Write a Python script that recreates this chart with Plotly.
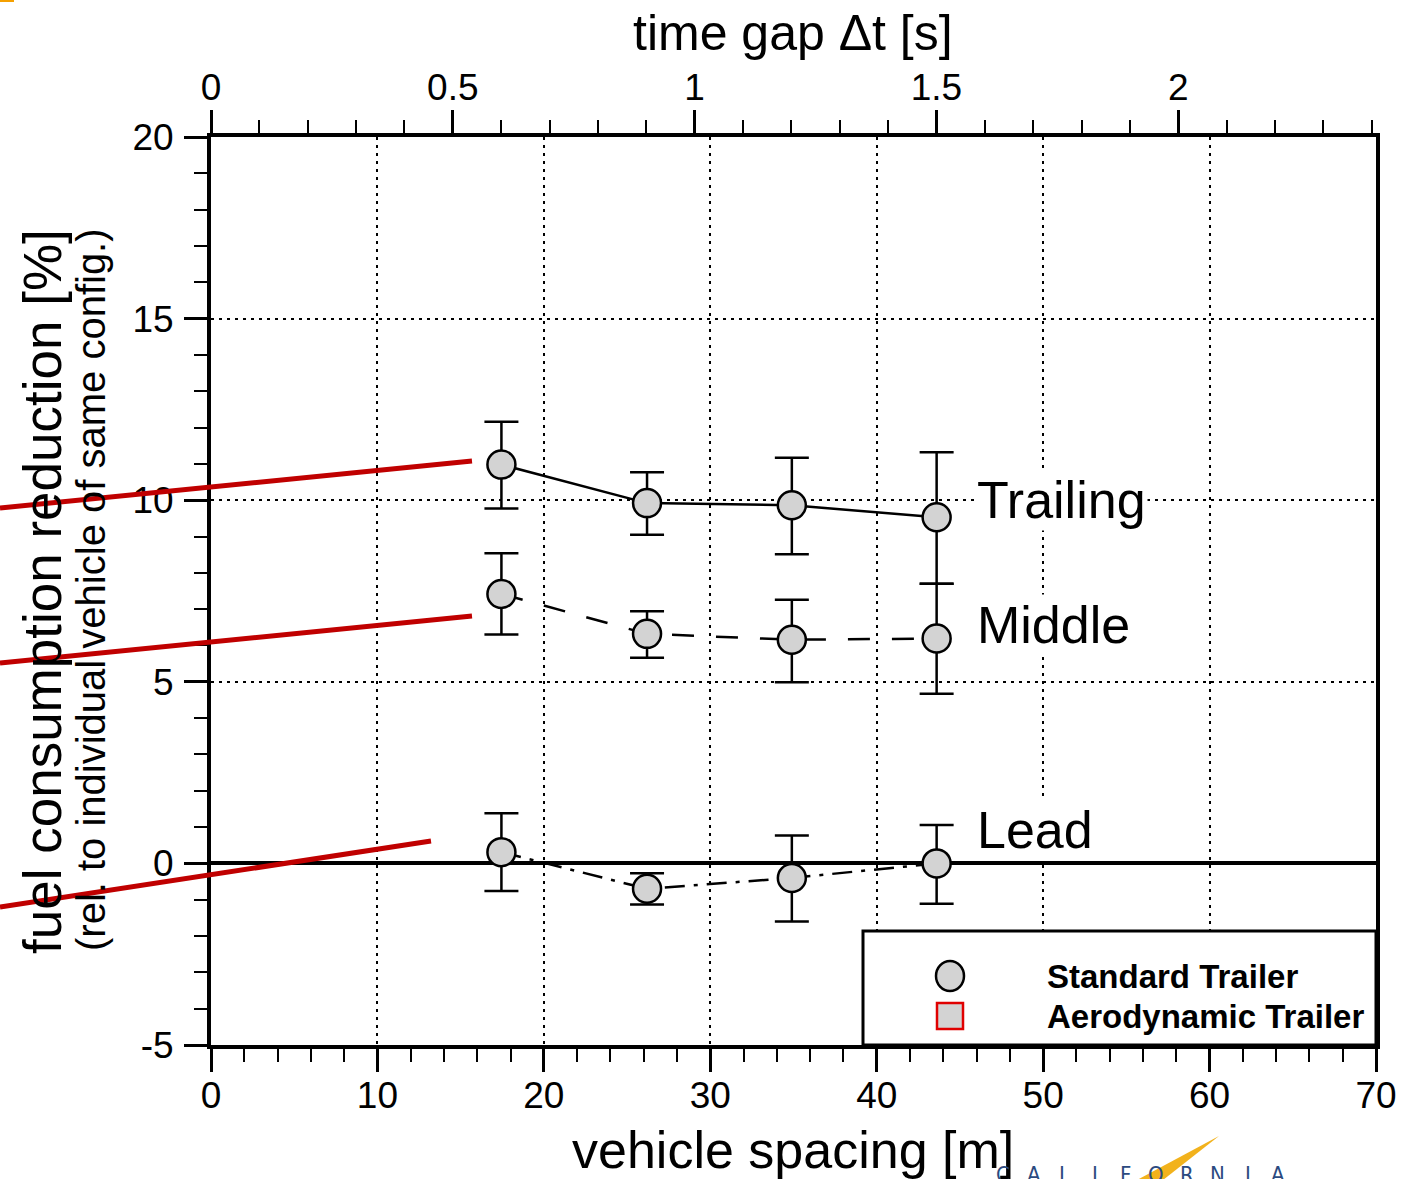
import plotly.graph_objects as go

# ---------------- data ----------------
spacing_m = [17.45, 26.2, 34.9, 43.6]          # vehicle spacing [m]
speed_ms = 29.06                                # 65 mph -> relation between spacing and time gap

trailing = [10.98, 9.92, 9.86, 9.53]
trailing_hi = [12.16, 10.77, 11.17, 11.32]
trailing_lo = [9.77, 9.05, 8.51, 7.70]

middle = [7.42, 6.32, 6.16, 6.19]
middle_hi = [8.54, 6.94, 7.26, 7.70]
middle_lo = [6.30, 5.66, 4.99, 4.67]

lead = [0.31, -0.70, -0.40, 0.00]
lead_hi = [1.38, -0.27, 0.77, 1.06]
lead_lo = [-0.76, -1.13, -1.60, -1.11]

series_names = ["Trailing", "Middle", "Lead"]
series_label_y = [10.0, 6.57, 0.91]
legend_names = ["Standard Trailer", "Aerodynamic Trailer"]

x_ticks = [0, 10, 20, 30, 40, 50, 60, 70]
y_ticks = [-5, 0, 5, 10, 15, 20]
y_ticktext = ["-5", "0", "5", "10", "15", "20"]
t_ticks = [0, 0.5, 1, 1.5, 2]

# ---------------- layout geometry helpers ----------------
W, H = 1401, 1179
L, R, T, B = 211, 1376, 137, 1045


def px(xp):
    return (xp - L) / (R - L)


def py(yp):
    return (B - yp) / (B - T)


FONT = "Liberation Sans, Arial, sans-serif"
GRAY = "#d3d3d3"

fig = go.Figure()

dashes = ["solid", "22px,22px", "20px,9px,4px,9px"]
vals = [(trailing, trailing_hi, trailing_lo),
        (middle, middle_hi, middle_lo),
        (lead, lead_hi, lead_lo)]
for name, (v, hi, lo), dash in zip(series_names, vals, dashes):
    fig.add_trace(go.Scatter(
        x=spacing_m, y=v, mode="lines+markers", name=name, showlegend=False,
        line=dict(color="black", width=2.5, dash=dash),
        marker=dict(symbol="circle", size=28, color=GRAY,
                    line=dict(color="black", width=2.5)),
        error_y=dict(type="data", symmetric=False,
                     array=[h - c for h, c in zip(hi, v)],
                     arrayminus=[c - l for c, l in zip(v, lo)],
                     color="black", thickness=2.5, width=17),
        cliponaxis=False,
    ))

# dummy trace to anchor the top time-gap axis
fig.add_trace(go.Scatter(x=[None], y=[None], xaxis="x2", yaxis="y",
                         showlegend=False, hoverinfo="skip"))

grid = dict(showgrid=True, gridcolor="black", gridwidth=2, griddash="3px,5px")

fig.update_layout(
    width=W, height=H,
    margin=dict(l=L, r=W - R, t=T, b=H - B, autoexpand=False),
    paper_bgcolor="white", plot_bgcolor="white",
    font=dict(family=FONT, color="black", size=37),
    xaxis=dict(range=[0, 70], tickvals=x_ticks, ticks="outside", ticklen=23,
               tickwidth=3, tickcolor="black", showline=True, linewidth=4,
               linecolor="black", mirror=False, zeroline=False, automargin=False,
               tickfont=dict(size=37, family=FONT), ticklabelstandoff=-8,
               minor=dict(dtick=2, ticklen=13, tickwidth=2, tickcolor="black",
                          ticks="outside", showgrid=False),
               **grid),
    xaxis2=dict(overlaying="x", side="top", anchor="y",
                range=[0, 70 / speed_ms], tickvals=t_ticks,
                ticktext=[f"{t:g}" for t in t_ticks],
                ticks="outside", ticklen=23, tickwidth=3, tickcolor="black",
                showline=True, linewidth=4, linecolor="black", automargin=False,
                showgrid=False, zeroline=False,
                tickfont=dict(size=37, family=FONT), ticklabelstandoff=-5,
                minor=dict(dtick=0.1, ticklen=13, tickwidth=2, tickcolor="black",
                           ticks="outside", showgrid=False)),
    yaxis=dict(range=[-5, 20], tickvals=y_ticks, ticktext=y_ticktext,
               ticks="outside", ticklen=23, automargin=False,
               tickwidth=3, tickcolor="black", showline=True, linewidth=4,
               linecolor="black", mirror=True,
               zeroline=True, zerolinecolor="black", zerolinewidth=4,
               tickfont=dict(size=37, family=FONT), ticklabelstandoff=3,
               minor=dict(dtick=1, ticklen=13, tickwidth=2, tickcolor="black",
                          ticks="outside", showgrid=False),
               **grid),
    showlegend=False,
)

annotations = []
# axis titles
annotations.append(dict(text="vehicle spacing [m]", xref="paper", yref="paper",
                        x=px(793), y=py(1150), xanchor="center", yanchor="middle",
                        showarrow=False, font=dict(size=52, family=FONT)))
annotations.append(dict(text="time gap \u0394t [s]", xref="paper", yref="paper",
                        x=px(793), y=py(33), xanchor="center", yanchor="middle",
                        showarrow=False, font=dict(size=50, family=FONT)))
annotations.append(dict(text="fuel consumption reduction [%]", xref="paper", yref="paper",
                        x=px(42), y=py(592), xanchor="center", yanchor="middle",
                        textangle=-90, showarrow=False, font=dict(size=53, family=FONT)))
annotations.append(dict(text="(rel. to individual vehicle of same config.)", xref="paper",
                        yref="paper", x=px(91), y=py(590), xanchor="center",
                        yanchor="middle", textangle=-90, showarrow=False,
                        font=dict(size=40, family=FONT)))
# series labels
for name, ly in zip(series_names, series_label_y):
    annotations.append(dict(text=name, xref="x", yref="y", x=45.9, y=ly,
                            xanchor="left", yanchor="middle", showarrow=False,
                            bgcolor="white", borderpad=1,
                            font=dict(size=52, family=FONT)))
# legend texts
for name, yp in zip(legend_names, [976, 1016]):
    annotations.append(dict(text=f"<b>{name}</b>", xref="paper", yref="paper",
                            x=px(1045), y=py(yp), xanchor="left", yanchor="middle",
                            showarrow=False, font=dict(size=33, family=FONT)))
# CALIFORNIA logo letters
for i, ch in enumerate("CALIFORNIA"):
    annotations.append(dict(text=ch, xref="paper", yref="paper",
                            x=px(1003 + i * 30.6), y=py(1160), xanchor="center",
                            yanchor="top", showarrow=False,
                            font=dict(size=22, family="DejaVu Sans Condensed, sans-serif",
                                      color="#2b4a80")))
fig.update_layout(annotations=annotations)

shapes = []
# legend box
shapes.append(dict(type="rect", xref="paper", yref="paper", x0=px(863), x1=1.0,
                   y0=0.0, y1=py(931), line=dict(color="black", width=3),
                   fillcolor="white", layer="above"))
shapes.append(dict(type="circle", xref="paper", yref="paper", xsizemode="pixel",
                   ysizemode="pixel", xanchor=px(950), yanchor=py(976),
                   x0=-14, x1=14, y0=-15, y1=15, fillcolor=GRAY,
                   line=dict(color="black", width=2.5), layer="above"))
shapes.append(dict(type="rect", xref="paper", yref="paper", xsizemode="pixel",
                   ysizemode="pixel", xanchor=px(950), yanchor=py(1016),
                   x0=-13, x1=13, y0=-13, y1=13, fillcolor=GRAY,
                   line=dict(color="#e00000", width=2.5), layer="above"))
# red overlay lines
for (xa, ya, xb, yb) in [(0, 508, 472, 461), (0, 663, 472, 616), (0, 907, 431, 841)]:
    shapes.append(dict(type="line", xref="paper", yref="paper",
                       x0=px(xa), y0=py(ya), x1=px(xb), y1=py(yb),
                       line=dict(color="#c00000", width=5), layer="above"))
# yellow swoosh of logo
pts = [(1137, 1180), (1219, 1136), (1163, 1180)]
path = "M " + " L ".join(f"{px(a):.5f},{py(b):.5f}" for a, b in pts) + " Z"
shapes.append(dict(type="path", xref="paper", yref="paper", path=path,
                   fillcolor="#f2b21c", line=dict(width=0), layer="above"))
# orange corner mark
shapes.append(dict(type="rect", xref="paper", yref="paper", x0=px(0), x1=px(14),
                   y0=py(2), y1=py(0), fillcolor="#f5a000", line=dict(width=0),
                   layer="above"))
fig.update_layout(shapes=shapes)

fig.write_html("out.html",
               config={"displayModeBar": False},
               post_script="document.body.style.margin='0';"
                           "document.documentElement.style.overflow='hidden';")
